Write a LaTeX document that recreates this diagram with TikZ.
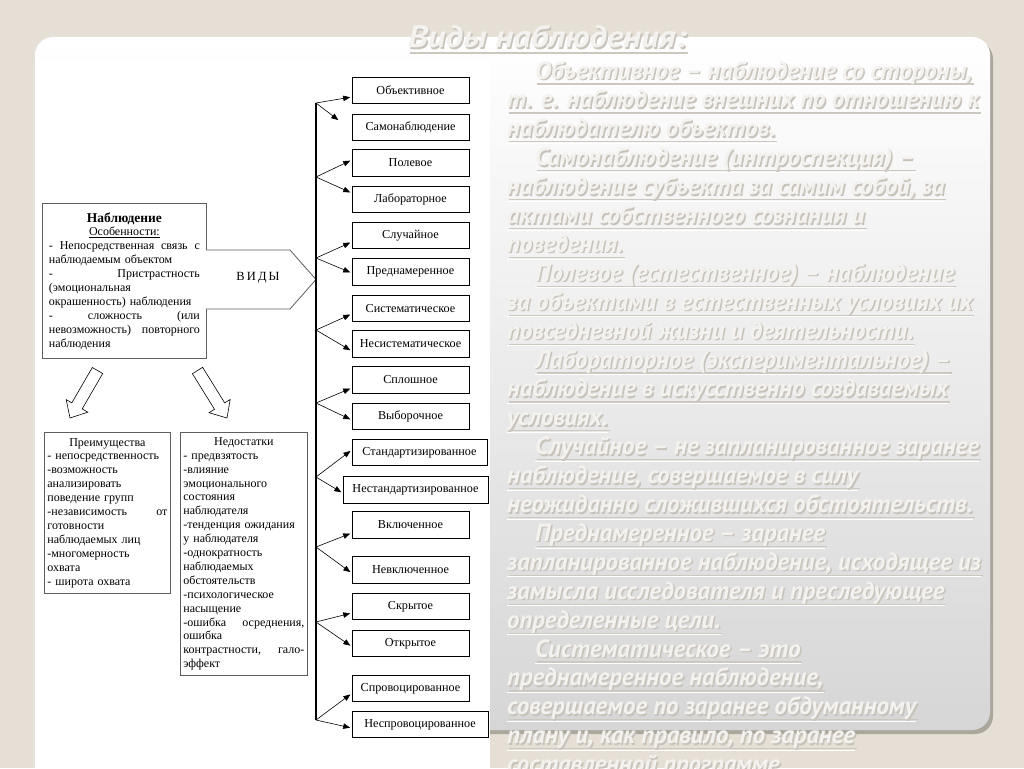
\documentclass[tikz,border=0pt]{standalone}
\usepackage{fontspec}
\setmainfont{Liberation Serif}
\newfontfamily\rtfont{PT Sans}
\newfontfamily\rttitlefont[FakeStretch=1.12]{PT Sans}
\usetikzlibrary{arrows.meta,calc}
\definecolor{bgc}{RGB}{229,223,213}
\definecolor{pshadow}{RGB}{172,167,157}
\definecolor{pbot}{RGB}{214,214,214}
\definecolor{rtmainc}{RGB}{244,242,238}
\definecolor{rtshc}{RGB}{200,195,186}
\definecolor{rtulc}{RGB}{204,199,191}
\definecolor{boxgray}{RGB}{95,95,95}
\tikzset{
  lbox/.style={draw=boxgray, line width=0.8pt, fill=white, align=left, inner ysep=0pt,
    font=\fontsize{12}{13.9}\selectfont},
  kind/.style={draw=black, line width=0.7pt, fill=white, inner sep=0pt,
    minimum width=117, minimum height=26.5, font=\fontsize{12.2}{13}\selectfont},
  br/.style={-{Triangle[length=7pt,width=5.5pt]}, line width=0.6pt, shorten >=1.5pt},
  vl/.style={line width=1.1pt},
  bigarrow/.style={draw=black, line width=0.6pt, fill=white, line join=miter},
  rtm/.style={inner sep=0pt, text=rtmainc, font=\rtfont\bfseries\itshape\fontsize{24.8}{28}\selectfont},
  rtsh/.style={rtm, text=rtshc},
  rtul/.style={draw=rtulc, line width=1.2pt},
  rtulw/.style={draw=white, line width=0.8pt},
  ttl/.style={font=\rttitlefont\bfseries\itshape\fontsize{31}{33}\selectfont},
}
\newcommand\rt[3]{%
  \path (#2,{79+28.9*(#1-1)}) coordinate (rtc#1);
  \node[rtsh, anchor=base west] (rts#1) at ([xshift=1.5pt,yshift=-1.5pt]rtc#1) {#3};
  \draw[rtul] ([yshift=-3.5pt]rts#1.base west) -- ([yshift=-3.5pt]rts#1.base east);
  \draw[rtulw] ([xshift=-1.5pt,yshift=-5pt]rts#1.base west) -- ([xshift=-1.5pt,yshift=-5pt]rts#1.base east);
  \node[rtm, anchor=base west] (rt#1) at (rtc#1) {#3};
}
\begin{document}
\begin{tikzpicture}[x=1pt,y=-1pt]
\useasboundingbox (0,0) rectangle (1024,768);
\clip (0,0) rectangle (1024,768);
% background and panel
\fill[bgc] (0,0) rectangle (1024,768);
\fill[pshadow, rounded corners=18pt] (38,41) rectangle (993,734);
\shade[top color=white, bottom color=pbot, rounded corners=18pt] (35,37) rectangle (990,730);
\fill[white] (35,60) rectangle (490,768);

% ---------------- diagram ----------------
\node[lbox, anchor=north west, minimum width=164, minimum height=155, text width=151, inner xsep=6.5pt] (nab) at (42,203) {%
\makebox[151pt]{\fontsize{13.5}{14}\selectfont\bfseries Наблюдение}\\
\makebox[151pt]{\underline{Особенности:}}\\
-\hfill Непосредственная\hfill связь\hfill с\\
наблюдаемым объектом\\
-\hfill Пристрастность\\
(эмоциональная\\
окрашенность) наблюдения\\
-\hfill сложность\hfill (или\\
невозможность)\hfill повторного\\
наблюдения};

\draw[draw=boxgray, line width=0.8pt, fill=white] (206,250) -- (290,250) -- (316,279.5) -- (290,309) -- (206,309);
\node[font=\fontsize{12.5}{14}\selectfont] (vidy) at (258,278) {В\,И\,Д\,Ы};

% big arrows
\draw[bigarrow] (102.7,373.5) -- (82.2,408.9) -- (87.8,412.2) -- (70,418) -- (66.2,399.6) -- (71.8,402.9) -- (92.3,367.5) -- cycle;
\draw[bigarrow] (202.6,367.3) -- (224.7,402.9) -- (230.2,399.5) -- (227,418) -- (209.0,412.7) -- (214.5,409.3) -- (192.4,373.7) -- cycle;

\node[lbox, anchor=north west, minimum width=126, minimum height=161, text width=120, inner xsep=3pt] (prei) at (44,432) {%
\makebox[120pt]{Преимущества}\\
- непосредственность\\
-возможность\\
анализировать\\
поведение групп\\
-независимость\hfill от\\
готовности\\
наблюдаемых лиц\\
-многомерность\\
охвата\\
- широта охвата};

\node[lbox, anchor=north west, minimum width=127, minimum height=243, text width=121, inner xsep=3pt] (ned) at (180,432) {%
\makebox[121pt]{Недостатки}\\
- предвзятость\\
-влияние\\
эмоционального\\
состояния\\
наблюдателя\\
-тенденция ожидания\\
у наблюдателя\\
-однократность\\
наблюдаемых\\
обстоятельств\\
-психологическое\\
насыщение\\
-ошибка\hfill осреднения,\\
ошибка\\
контрастности,\hfill гало-\\
эффект};

% kinds
\node[kind] (ob)  at (410.5,90.5)  {Объективное};
\node[kind] (sam) at (410.5,127.5) {Самонаблюдение};
\node[kind] (pol) at (410.5,163)   {Полевое};
\node[kind] (lab) at (410.5,199.5) {Лабораторное};
\node[kind] (slu) at (410.5,235.5) {Случайное};
\node[kind] (pre) at (410.5,272)   {Преднамеренное};
\node[kind] (sis) at (410.5,308.5) {Систематическое};
\node[kind] (nes) at (410.5,344)   {Несистематическое};
\node[kind] (spl) at (410.5,380)   {Сплошное};
\node[kind] (vyb) at (410.5,416.5) {Выборочное};
\node[kind, minimum width=135] (sta) at (419.5,452.5) {Стандартизированное};
\node[kind, minimum width=145] (nst) at (415.5,490) {Нестандартизированное};
\node[kind] (vkl) at (410.5,525)   {Включенное};
\node[kind] (nvk) at (410.5,570)   {Невключенное};
\node[kind] (skr) at (410.5,606.5) {Скрытое};
\node[kind] (otk) at (410.5,643.5) {Открытое};
\node[kind] (spr) at (410.5,688.5) {Спровоцированное};
\node[kind, minimum width=136] (nsp) at (420,724.5) {Неспровоцированное};

\coordinate (b1) at (316,103);
\coordinate (b2) at (316,177);
\coordinate (b3) at (316,258);
\coordinate (b4) at (316,330);
\coordinate (b5) at (316,403);
\coordinate (b6) at (316,477);
\coordinate (b7) at (316,547);
\coordinate (b8) at (316,622);
\coordinate (b9) at (316,720);
\coordinate (samtip) at (339.5,121);

\draw[vl] (b1) -- (b9);
\draw[br] (b1) -- ($(ob.west)+(0,6.5)$);
\draw[br] (b1) -- (samtip);
\draw[br] (b2) -- ($(pol.west)+(0,-3)$);
\draw[br] (b2) -- ($(lab.west)+(0,-6.5)$);
\draw[br] (b3) -- ($(slu.west)+(0,6.5)$);
\draw[br] (b3) -- ($(pre.west)+(0,1)$);
\draw[br] (b4) -- ($(sis.west)+(0,5.5)$);
\draw[br] (b4) -- ($(nes.west)+(0,7)$);
\draw[br] (b5) -- ($(spl.west)+(0,8)$);
\draw[br] (b5) -- ($(vyb.west)+(0,3.5)$);
\draw[br] (b6) -- ($(sta.west)+(0,-2.5)$);
\draw[br] (b6) -- ($(nst.west)+(0,3)$);
\draw[br] (b7) -- ($(vkl.west)+(0,8)$);
\draw[br] (b7) -- ($(nvk.west)+(0,3)$);
\draw[br] (b8) -- ($(skr.west)+(0,6.5)$);
\draw[br] (b8) -- ($(otk.west)+(0,3)$);
\draw[br] (b9) -- ($(spr.west)+(0,5)$);
\draw[br] (b9) -- ($(nsp.west)+(0,3.5)$);

% ---------------- right text ----------------
\rt{1}{535}{Объективное – наблюдение со стороны,}
\rt{2}{507}{т. е. наблюдение внешних по отношению к}
\rt{3}{507}{наблюдателю объектов.}
\rt{4}{535}{Самонаблюдение (интроспекция) –}
\rt{5}{507}{наблюдение субъекта за самим собой, за}
\rt{6}{507}{актами собственного сознания и}
\rt{7}{507}{поведения.}
\rt{8}{535}{Полевое (естественное) – наблюдение}
\rt{9}{507}{за объектами в естественных условиях их}
\rt{10}{507}{повседневной жизни и деятельности.}
\rt{11}{535}{Лабораторное (экспериментальное) –}
\rt{12}{507}{наблюдение в искусственно создаваемых}
\rt{13}{507}{условиях.}
\rt{14}{535}{Случайное – не запланированное заранее}
\rt{15}{507}{наблюдение, совершаемое в силу}
\rt{16}{507}{неожиданно сложившихся обстоятельств.}
\rt{17}{535}{Преднамеренное – заранее}
\rt{18}{507}{запланированное наблюдение, исходящее из}
\rt{19}{507}{замысла исследователя и преследующее}
\rt{20}{507}{определенные цели.}
\rt{21}{535}{Систематическое – это}
\rt{22}{507}{преднамеренное наблюдение,}
\rt{23}{507}{совершаемое по заранее обдуманному}
\rt{24}{507}{плану и, как правило, по заранее}
\rt{25}{507}{составленной программе}

% title
\node[rtsh, ttl, anchor=base west] (titles) at (409.5,49.5) {Виды наблюдения:};
\draw[rtul] ([yshift=-3.5pt]titles.base west) -- ([yshift=-3.5pt]titles.base east);
\node[rtm, ttl, anchor=base west] (title) at (408,48) {Виды наблюдения:};
\end{tikzpicture}
\end{document}
